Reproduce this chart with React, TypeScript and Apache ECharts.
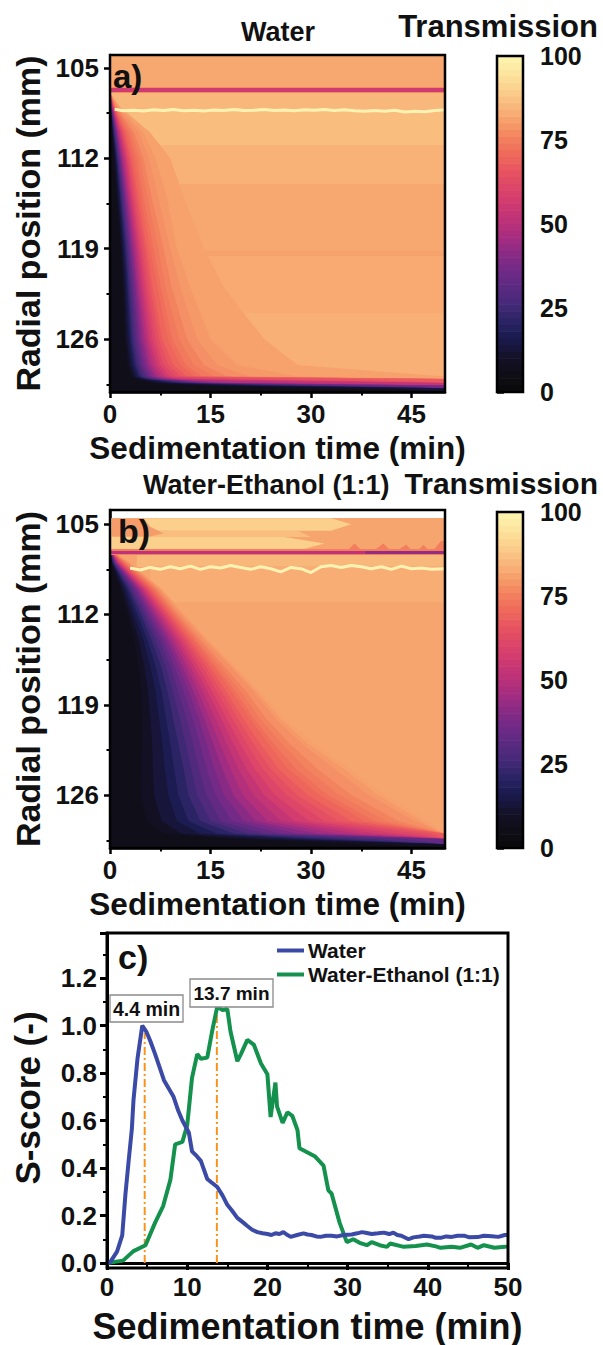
import React, { useEffect, useRef } from "react";
import * as echarts from "echarts";

const FONT = "Liberation Sans, Arial, sans-serif";

// Transmission colour scale, one colour every 5 %
const colorStops = ["#0a0a0c","#100e18","#15122c","#1a1a4e","#2a2464","#452a78","#592a80","#6f2a86","#892b85","#a62d80","#bd3278","#cf3a70","#dd4668","#e85560","#ef6a5a","#f3835f","#f7a26d","#f9bd7e","#fbd590","#fce9a2","#fdf8b2"];
const colorbarLevels = [0,2,4,6,8,10,12,14,16,18,20,22,24,26,28,30,32,34,36,38,40,42,44,46,48,50,52,54,56,58,60,62,64,66,68,70,72,74,76,78,80,82,84,86,88,90,92,94,96,98];

const timeTicks = [0,15,30,45];
const timeMinor = [7.5,22.5,37.5];
const radialTicks = [105,112,119,126];
const radialMinor = [108.5,115.5,122.5,129.5];

// Transmission levels whose arrival fronts are tabulated below
const contourLevels = [5,8,12,16,20,24,28,32,36,40,44,48,52,56,60,63,66,69,71,73,75,77,78.5,80];

// Panel a: radial rows, and for each level the time (min) at which the row reaches it
const rowsA = [106.9,108,110,112,115,119,122,126,128,128.9,129.1,129.4,129.6,129.8,130.1];
const frontsA = [
  [0,.05,.3,.6,1,1.6,1.9,2.2,2.6,3.2,3.8,6,12,30,50],
  [0,.08,.38,.72,1.18,1.8,2.15,2.5,2.95,3.6,4.4,7.5,16,42,50],
  [0,.1,.45,.85,1.35,2,2.4,2.8,3.3,4,5,9,20,50,50],
  [0,.12,.52,.98,1.5,2.2,2.6,3.05,3.6,4.3,5.4,10,23,50,50],
  [0,.15,.6,1.1,1.65,2.4,2.8,3.3,3.9,4.6,5.8,11,26,50,50],
  [0,.18,.7,1.22,1.82,2.6,3.05,3.6,4.25,5,6.3,12,30,50,50],
  [0,.2,.8,1.35,2,2.8,3.3,3.9,4.6,5.4,6.8,13,34,50,50],
  [0,.22,.9,1.48,2.15,3,3.55,4.2,4.95,5.8,7.3,14,42,50,50],
  [0,.25,1,1.6,2.3,3.2,3.8,4.5,5.3,6.2,7.8,15,50,50,50],
  [0,.28,1.1,1.75,2.5,3.45,4.05,4.85,5.7,6.7,8.4,17,50,50,50],
  [0,.3,1.2,1.9,2.7,3.7,4.3,5.2,6.1,7.2,9,19,50,50,50],
  [0,.35,1.35,2.1,2.9,3.95,4.6,5.55,6.55,7.7,9.7,30,50,50,50],
  [0,.4,1.5,2.3,3.1,4.2,4.9,5.9,7,8.3,10.5,50,50,50,50],
  [0,.45,1.65,2.5,3.35,4.5,5.25,6.35,7.5,9,13,50,50,50,50],
  [0,.5,1.8,2.7,3.6,4.8,5.6,6.8,8,9.8,20,50,50,50,50],
  [0,.55,2,2.95,3.9,5.15,6,7.3,8.7,10.6,35,50,50,50,50],
  [0,.6,2.2,3.2,4.2,5.5,6.4,7.8,9.5,11.5,50,50,50,50,50],
  [0,.65,2.5,3.6,4.6,6,7.1,8.6,10.5,12.7,50,50,50,50,50],
  [0,.7,2.8,4,5,6.5,7.6,9.3,11.3,13.7,50,50,50,50,50],
  [0,.8,3.2,4.5,5.6,7.2,8.3,10.3,12.5,15.5,50,50,50,50,50],
  [0,.9,3.6,5,6.2,8,9.2,11.5,14,17.5,50,50,50,50,50],
  [0,1.1,4.3,5.8,7.2,9,10.5,13,16,21,50,50,50,50,50],
  [0,1.3,5,6.8,8.5,10,12,15,19,28,50,50,50,50,50],
  [0,1.5,6,9,11,14,17,23,28,50,50,50,50,50,50],
];

// Panel b: same table
const rowsB = [107,108,110,112,114,116,118,120,122,124,126,128,129,129.4,129.8,130.1];
const frontsB = [
  [0,.2,1.5,2.6,3.6,4.3,4.6,4.8,4.8,4.6,4.6,5.5,8,18,38,50],
  [0,.27,1.85,3.1,4.3,5.1,5.7,6,6.3,6.4,6.6,7.7,10.7,22,50,50],
  [0,.35,2.2,3.6,5,6,6.8,7.3,7.8,8.2,8.7,10,13.5,27,50,50],
  [0,.42,2.5,4.1,5.6,6.8,7.7,8.35,9,9.6,10.2,11.7,16,30,50,50],
  [0,.5,2.8,4.6,6.2,7.6,8.6,9.4,10.2,11,11.7,13.5,18.5,34,50,50],
  [0,.6,3.1,5,6.8,8.3,9.4,10.4,11.3,12.15,13,15,20.7,39,50,50],
  [0,.7,3.4,5.4,7.4,9,10.2,11.4,12.4,13.3,14.4,16.5,23,44,50,50],
  [0,.8,3.7,5.8,7.9,9.6,11,12.3,13.4,14.45,15.7,18.2,25.5,50,50,50],
  [0,.9,4,6.2,8.4,10.2,11.8,13.2,14.4,15.6,17,20,28,50,50,50],
  [0,1,4.25,6.6,8.9,10.8,12.5,14,15.4,16.8,18.4,21.7,31,50,50,50],
  [0,1.1,4.5,7,9.4,11.4,13.2,14.8,16.4,18,19.8,23.5,34,50,50,50],
  [0,1.2,4.75,7.35,9.85,11.95,13.9,15.65,17.4,19.2,21.4,25.5,37,50,50,50],
  [0,1.3,5,7.7,10.3,12.5,14.6,16.5,18.4,20.4,23,27.5,40,50,50,50],
  [0,1.45,5.25,8.05,10.75,13.1,15.3,17.35,19.4,21.6,24.6,29.7,43,50,50,50],
  [0,1.6,5.5,8.4,11.2,13.7,16,18.2,20.4,22.8,26.3,32,46,50,50,50],
  [0,1.75,5.75,8.7,11.6,14.25,16.7,19,21.4,24,27.9,34,48,50,50,50],
  [0,1.9,6,9,12,14.8,17.4,19.8,22.4,25.2,29.5,36,50,50,50,50],
  [0,2.1,6.3,9.35,12.5,15.4,18.2,20.8,23.6,26.6,31.3,38,50,50,50,50],
  [0,2.2,6.5,9.6,12.8,15.8,18.8,21.4,24.4,27.8,32.5,39.5,50,50,50,50],
  [0,2.4,6.75,9.9,13.2,16.4,19.6,22.3,25.6,29.4,34.2,41.2,50,50,50,50],
  [0,2.6,7,10.2,13.6,17,20.4,23.2,26.8,31,36,43,50,50,50,50],
  [0,2.85,7.3,10.7,14.2,17.9,21.5,24.6,28.6,33.6,38.6,45.4,50,50,50,50],
  [0,3,7.5,11,14.5,18.3,22,25.3,29.5,35,40,46.5,50,50,50,50],
  [0,3.1,7.7,11.3,14.8,18.7,22.5,26,30.5,36,41,47.5,50,50,50,50],
];

// Horizontal bands: [transmission, t0, r0, t1, r1]
const backgroundA = [[81,0,104,50,106.6],[84,0,106.6,50,108.4],[85,0,108.4,50,111],[83,0,111,50,114],[81,0,114,50,119.2],[80,0,119.2,50,119.6],[81.5,0,119.6,50,124],[82.5,0,124,50,130.1]];
const linesA = [[76,0,106.55,50,106.9],[55,0,106.63,50,106.83]];
const backgroundB = [[80.5,0,104.53,50,130.1],[84,4,107.3,50,108.3],[82,6,108.3,50,111]];
const linesB = [[74,0,107,50,107.35],[50,0,107.08,38,107.28],[42,38,107.08,50,107.28]];

// Patches of panel b, above the meniscus line
const patchValuesB = [89,85,89,79,74,74,74,74,74];
const patchShapesB = [
  [[0,104.53],[33,104.53],[36,105],[33,105.5],[0,105.5]],
  [[0,105.5],[28,105.5],[30,106],[0,106]],
  [[0,106],[26,106],[32,106.5],[28,107.05],[0,107.05]],
  [[0.3,104.53],[5,104.53],[6,105.2],[8,105.7],[6,105.95],[0.3,105.95]],
  [[35.5,107],[36.5,106.5],[37.5,107]],
  [[39.5,107],[40.8,106.5],[41.8,107]],
  [[43,107],[44.2,106.6],[45,107]],
  [[46,107],[46.8,106.6],[47.5,107]],
  [[48.3,107],[49.4,106.3],[50,106.3],[50,107]],
];

// The pale wavy line just below the meniscus: time and radial position
const paleTimeA = [.7,2,3.5,5,6.5,8,9.5,11,12.5,14,15.5,17,18.5,20,21.5,23,24.5,26,27.5,29,30.5,32,33.5,35,36.5,38,39.5,41,42.5,44,45.5,47,48.5,50];
const paleRadA = [108.2,108.32,108.28,108.34,108.24,108.3,108.22,108.31,108.27,108.33,108.26,108.3,108.22,108.3,108.27,108.22,108.3,108.26,108.32,108.24,108.28,108.22,108.3,108.24,108.32,108.36,108.3,108.36,108.28,108.42,108.36,108.4,108.3,108.25];
const paleTimeB = [3,4.5,6,7.5,9,10.5,12,13.5,15,16.5,18,19.5,21,22.5,24,25.5,27,28.5,30,31.5,33,34.5,36,37.5,39,40.5,42,43.5,45,46.5,48,50];
const paleRadB = [108.4,108.55,108.35,108.5,108.3,108.45,108.25,108.5,108.3,108.4,108.2,108.35,108.5,108.3,108.45,108.7,108.35,108.45,108.75,108.3,108.2,108.35,108.2,108.3,108.45,108.3,108.5,108.25,108.45,108.4,108.5,108.45];

// Panel c
const waterTime = [0,.4,1.25,1.9,2.3,2.7,3.1,3.3,3.8,4.4,4.9,5.4,6,6.5,7.1,7.7,8.3,8.9,9.4,10.2,10.6,11.2,11.7,12.5,13,13.75,14.4,15,15.6,16.25,17,17.5,18.1,18.75,19.4,20,20.5,21,21.5,22,22.4,22.9,23.7,24.5,25,25.5,26.1,26.6,27.3,28,28.7,29.5,30.5,31.2,31.8,32.4,33,33.8,34.5,35.2,35.7,36.2,36.7,37.6,38.2,39,39.5,40.5,41,41.6,42.3,43,43.7,44.5,45.2,46.2,47,48,48.8,49.6,50];
const waterScore = [0,.004,.048,.116,.29,.43,.565,.685,.86,1,.975,.935,.88,.83,.77,.735,.7,.64,.6,.55,.47,.45,.43,.354,.34,.32,.285,.245,.22,.19,.17,.156,.14,.13,.125,.122,.118,.125,.122,.13,.12,.11,.118,.125,.12,.118,.112,.11,.115,.115,.112,.118,.12,.125,.13,.126,.122,.125,.128,.122,.128,.118,.115,.1,.108,.112,.115,.112,.106,.106,.112,.11,.115,.115,.108,.109,.115,.113,.11,.118,.118];
const mixTime = [0,2,3.3,4.8,6,7,7.9,8.5,9.4,10,10.6,11.25,11.7,12.5,13.1,13.75,14.4,15,15.4,16.25,16.7,17.5,18.3,19.2,20,20.4,21,21.2,21.9,22.5,23.1,23.75,24,25.9,27,27.6,28,29,29.9,30.7,31.5,32.4,33,34,34.9,35.3,37,38.5,39.9,41,41.6,43,44,45.4,46.2,47,48.3,49.6,50];
const mixScore = [0,.01,.05,.075,.17,.24,.35,.5,.51,.58,.78,.88,.86,.865,.975,1.08,1.065,1.07,.975,.85,.88,.94,.92,.84,.795,.615,.76,.66,.59,.635,.62,.56,.483,.45,.41,.306,.293,.17,.088,.1,.085,.075,.088,.075,.068,.082,.068,.072,.078,.07,.064,.068,.064,.078,.064,.075,.064,.068,.07];
const peakMarkers = [{ time: 4.7, top: .97 }, { time: 13.7, top: 1.07 }];

const zip = (a: number[], b: number[]) => a.map((v, i) => [v, b[i]]);

const rectSeries = (bands: number[][], axis: number) => ({
  type: "custom", xAxisIndex: axis, yAxisIndex: axis, clip: true, silent: true,
  data: bands,
  renderItem: (_: any, api: any) => {
    const p0 = api.coord([api.value(1), api.value(2)]);
    const p1 = api.coord([api.value(3), api.value(4)]);
    const y0 = Math.floor(p0[1]);
    const y1 = Math.ceil(p1[1]);
    return { type: "rect", shape: { x: p0[0], y: y0, width: p1[0] - p0[0], height: y1 - y0 }, style: { fill: api.visual("color") } };
  },
});

const polySeries = (values: number[], shapes: number[][][], axis: number) => ({
  type: "custom", xAxisIndex: axis, yAxisIndex: axis, clip: true, silent: true,
  data: values.map((v, i) => [v, i]),
  renderItem: (_: any, api: any) => ({
    type: "polygon",
    shape: { points: shapes[api.value(1)].map((p) => api.coord(p)) },
    style: { fill: api.visual("color") },
  }),
});

const contourSeries = (rows: number[], fronts: number[][], axis: number) => {
  const order = contourLevels.map((_, i) => contourLevels.length - 1 - i);
  const shapes = order.map((i) => [...fronts[i].map((t, k) => [t, rows[k]]), [0, rows[rows.length - 1]]]);
  return polySeries(order.map((i) => contourLevels[i]), shapes, axis);
};

const paleLine = (time: number[], rad: number[], axis: number) => ({
  type: "line", xAxisIndex: axis, yAxisIndex: axis, data: zip(time, rad), showSymbol: false, silent: true,
  lineStyle: { color: "#fff3b4", width: 3 }, z: 3,
});

const labelStyle = (size: number, margin: number) => ({ fontFamily: FONT, fontWeight: "bold", fontSize: size, color: "#111", margin });

const mainTimeAxis = (grid: number, gap: number) => ({
  type: "value", gridIndex: grid, min: 0, max: 50, name: "Sedimentation time (min)", nameLocation: "middle", nameGap: gap,
  nameTextStyle: { fontFamily: FONT, fontWeight: "bold", fontSize: 31.5, color: "#111" },
  splitLine: { show: false }, axisLine: { show: true, onZero: false, lineStyle: { color: "#000", width: 2.5 } },
  axisTick: { show: true, length: 6, customValues: timeTicks, lineStyle: { color: "#000", width: 2.5 } },
  axisLabel: { ...labelStyle(26, 9), customValues: timeTicks },
});
const minorAxis = (kind: "x" | "y", grid: number, values: number[], lo: number, hi: number) => ({
  type: "value", gridIndex: grid, min: lo, max: hi, inverse: kind === "y", splitLine: { show: false },
  position: kind === "x" ? "bottom" : "left",
  axisLine: { show: false }, axisLabel: { show: false },
  axisTick: { show: true, length: 3.5, customValues: values, lineStyle: { color: "#000", width: 2 } },
});
const mainRadialAxis = (grid: number, lo: number, hi: number) => ({
  type: "value", gridIndex: grid, min: lo, max: hi, inverse: true, name: "Radial position (mm)", nameLocation: "middle", nameGap: 61,
  nameTextStyle: { fontFamily: FONT, fontWeight: "bold", fontSize: 34, color: "#111" },
  splitLine: { show: false }, axisLine: { show: true, onZero: false, lineStyle: { color: "#000", width: 2.5 } },
  axisTick: { show: true, length: 6, customValues: radialTicks, lineStyle: { color: "#000", width: 2.5 } },
  axisLabel: { ...labelStyle(26, 11), customValues: radialTicks },
});
const barXAxis = (grid: number) => ({ type: "value", gridIndex: grid, min: 0, max: 1, show: false });
const barYAxis = (grid: number) => ({
  type: "value", gridIndex: grid, min: 0, max: 100, interval: 25, position: "right", splitLine: { show: false },
  axisLine: { show: true, lineStyle: { color: "#000", width: 2.5 } },
  axisTick: { show: true, length: 7, lineStyle: { color: "#000", width: 2.5 } },
  axisLabel: { ...labelStyle(25, 17) },
});
const barSeries = (axis: number) => ({
  type: "custom", xAxisIndex: axis, yAxisIndex: axis, clip: true, silent: true,
  data: colorbarLevels.map((v) => [v, v + 2]),
  renderItem: (_: any, api: any) => {
    const p0 = api.coord([0, api.value(1)]);
    const p1 = api.coord([1, api.value(0)]);
    return { type: "rect", shape: { x: p0[0], y: p0[1] - 0.3, width: p1[0] - p0[0], height: p1[1] - p0[1] + 0.6 }, style: { fill: api.visual("color") } };
  },
});

const text = (str: string, x: number, y: number, size: number, align = "center") => ({
  type: "text", z: 50, silent: true,
  style: { text: str, x, y, fill: "#111", align, verticalAlign: "middle", fontFamily: FONT, fontWeight: "bold", fontSize: size },
});
const frame = (x: number, y: number, width: number, height: number, lw = 2.5) => ({
  type: "rect", z: 40, silent: true, shape: { x, y, width, height }, style: { fill: "none", stroke: "#000", lineWidth: lw },
});
const tagBox = (x: number, y: number, width: number, height: number) => ({
  type: "rect", z: 45, silent: true, shape: { x, y, width, height }, style: { fill: "#fff", stroke: "#8a8a8a", lineWidth: 1.3 },
});

const series: any[] = [
  rectSeries(backgroundA, 0),
  contourSeries(rowsA, frontsA, 0),
  rectSeries(linesA, 0),
  rectSeries(backgroundB, 2),
  polySeries(patchValuesB, patchShapesB, 2),
  contourSeries(rowsB, frontsB, 2),
  rectSeries(linesB, 2),
  barSeries(5),
  barSeries(6),
  paleLine(paleTimeA, paleRadA, 0),
  paleLine(paleTimeB, paleRadB, 2),
  ...peakMarkers.map((m) => ({
    type: "line", xAxisIndex: 4, yAxisIndex: 4, data: [[m.time, 0], [m.time, m.top]], showSymbol: false, silent: true, z: 1,
    lineStyle: { color: "#f7941d", width: 2, type: [8, 3, 2, 3] },
  })),
  { type: "line", name: "Water", xAxisIndex: 4, yAxisIndex: 4, data: zip(waterTime, waterScore), showSymbol: false, z: 3, lineStyle: { color: "#3a4aa6", width: 4 }, itemStyle: { color: "#3a4aa6" } },
  { type: "line", name: "Water-Ethanol (1:1)", xAxisIndex: 4, yAxisIndex: 4, data: zip(mixTime, mixScore), showSymbol: false, z: 2, lineStyle: { color: "#14914c", width: 4 }, itemStyle: { color: "#14914c" } },
];

const option: any = {
  animation: false,
  backgroundColor: "#fff",
  textStyle: { fontFamily: FONT },
  visualMap: [{ show: false, type: "continuous", min: 0, max: 100, dimension: 0, seriesIndex: [0,1,2,3,4,5,6,7,8], inRange: { color: colorStops } }],
  grid: [
    { left: 110, top: 55, width: 335, height: 337 },
    { left: 110, top: 510, width: 335, height: 338 },
    { left: 107, top: 933, width: 401, height: 335 },
    { left: 497, top: 56, width: 26, height: 336 },
    { left: 497, top: 512, width: 26, height: 336 },
  ],
  xAxis: [
    mainTimeAxis(0, 40), minorAxis("x", 0, timeMinor, 0, 50),
    mainTimeAxis(1, 40), minorAxis("x", 1, timeMinor, 0, 50),
    {
      type: "value", gridIndex: 2, min: 0, max: 50, interval: 10, name: "Sedimentation time (min)", nameLocation: "middle", nameGap: 45,
      nameTextStyle: { fontFamily: FONT, fontWeight: "bold", fontSize: 36, color: "#111" }, splitLine: { show: false },
      axisLine: { show: true, onZero: false, lineStyle: { color: "#000", width: 3 } },
      axisTick: { show: true, length: 7, lineStyle: { color: "#000", width: 3 } },
      minorTick: { show: true, splitNumber: 2, length: 4, lineStyle: { color: "#000", width: 2 } },
      axisLabel: { ...labelStyle(26, 11) },
    },
    barXAxis(3), barXAxis(4),
  ],
  yAxis: [
    mainRadialAxis(0, 104, 130.1), minorAxis("y", 0, radialMinor, 104, 130.1),
    mainRadialAxis(1, 103.9, 130.1), minorAxis("y", 1, radialMinor, 103.9, 130.1),
    {
      type: "value", gridIndex: 2, min: 0, max: 1.39, interval: 0.2, name: "S-score (-)", nameLocation: "middle", nameGap: 62,
      nameTextStyle: { fontFamily: FONT, fontWeight: "bold", fontSize: 35, color: "#111" }, splitLine: { show: false },
      axisLine: { show: true, onZero: false, lineStyle: { color: "#000", width: 3 } },
      axisTick: { show: true, length: 7, lineStyle: { color: "#000", width: 3 } },
      minorTick: { show: true, splitNumber: 2, length: 4, lineStyle: { color: "#000", width: 2 } },
      axisLabel: { ...labelStyle(26, 10), showMaxLabel: false, formatter: (v: number) => v.toFixed(1) },
    },
    barYAxis(3), barYAxis(4),
  ],
  legend: {
    show: true, orient: "vertical", left: 272, top: 935, itemWidth: 27, itemHeight: 4, itemGap: 3, icon: "rect",
    data: ["Water", "Water-Ethanol (1:1)"], selectedMode: false,
    textStyle: { fontFamily: FONT, fontWeight: "bold", fontSize: 21, color: "#111", padding: [0, 0, 0, -1] },
  },
  series,
  graphic: {
    elements: [
      frame(110, 55, 335, 337), frame(110, 510, 335, 338), frame(107, 933, 401, 335, 3),
      frame(497, 56, 26, 336), frame(497, 512, 26, 336),
      text("Water", 278, 32, 27),
      text("Transmission", 598, 26, 31, "right"),
      text("Water-Ethanol (1:1)", 143, 485, 27, "left"),
      text("Transmission", 598, 483.5, 30, "right"),
      text("a)", 113, 76, 33, "left"),
      text("b)", 118, 531, 34, "left"),
      text("c)", 118, 957, 34, "left"),
      tagBox(110, 995, 73, 27), text("4.4 min", 146.5, 1009, 19.5),
      tagBox(190, 979, 83, 28), text("13.7 min", 231.5, 993, 19),
    ],
  },
};

export default function App() {
  const ref = useRef<HTMLDivElement>(null);
  useEffect(() => {
    document.body.style.margin = "0";
    const chart = echarts.init(ref.current!, undefined, { renderer: "svg" });
    chart.setOption(option);
    return () => chart.dispose();
  }, []);
  return <div ref={ref} style={{ width: 603, height: 1345 }} />;
}
